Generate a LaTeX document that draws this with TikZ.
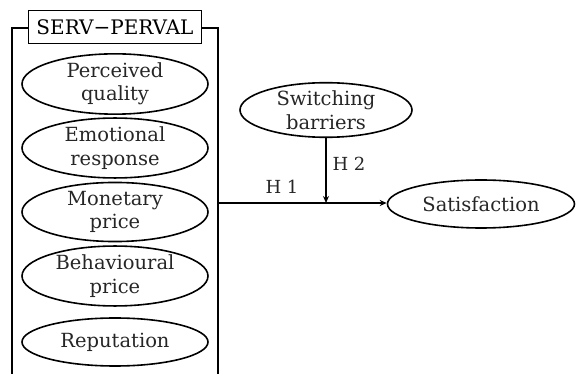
\documentclass[tikz,border=0pt]{standalone}
\usepackage{fontspec}
\setmainfont{DejaVu Serif}
\usetikzlibrary{shapes.geometric,arrows.meta}
\begin{document}
\begin{tikzpicture}[x=1pt,y=-1pt,
  construct/.style={draw,line width=1.6pt,ellipse,minimum width=#1,minimum height=48pt,inner sep=0pt,align=center,font=\fontsize{19.5}{23.5}\selectfont,text=black!85},
  construct/.default=186pt,
  link/.style={line width=2pt,-{Stealth[length=7pt,width=6pt]}},
  lbl/.style={font=\fontsize{18}{20}\selectfont,text=black!85}]
\useasboundingbox (0,0) rectangle (579,374);
\draw[line width=2pt] (12,380) -- (12,28) -- (218,28) -- (218,380);
\node[draw,fill=white,line width=1.8pt,minimum width=173pt,minimum height=33pt,inner sep=0pt,font=\fontsize{20}{22}\selectfont] (title) at (115,27) {SERV−PERVAL};
\node[construct] (pq) at (115,84) {Perceived\\quality};
\node[construct] (er) at (115,148) {Emotional\\response};
\node[construct] (mp) at (115,212) {Monetary\\price};
\node[construct] (bp) at (115,276) {Behavioural\\price};
\node[construct] (rep) at (115,342) {Reputation};
\node[construct=172pt,minimum height=52pt] (sb) at (326,110) {Switching\\barriers};
\node[construct=187pt] (sat) at (481,204) {Satisfaction};
\coordinate (src) at (218,203);
\coordinate (mid) at (sb.south |- src);
\draw[link] (src) -- (sat.west |- src);
\draw[link] (sb.south) -- (mid);
\node[lbl] (h1) at (282,187) {H 1};
\node[lbl] (h2) at (349,164) {H 2};
\end{tikzpicture}
\end{document}
